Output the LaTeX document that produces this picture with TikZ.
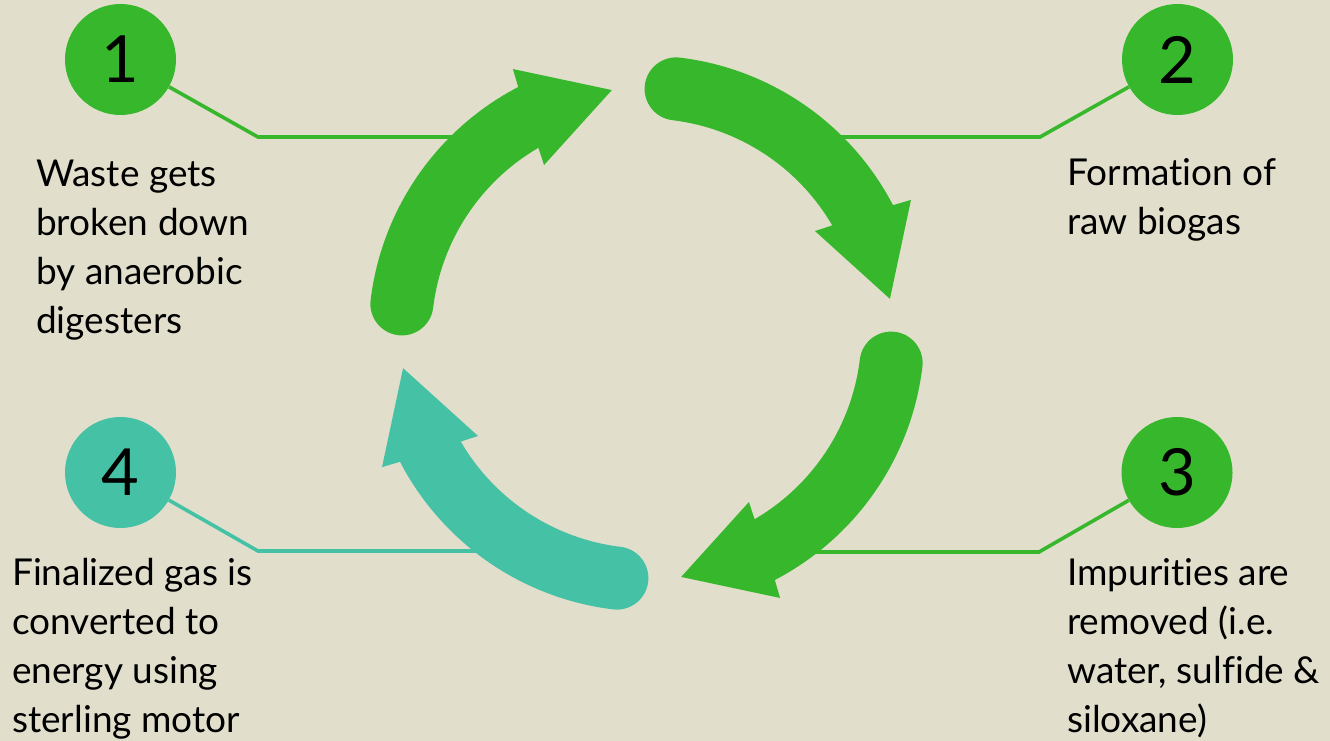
\documentclass[tikz,border=0pt]{standalone}
\usepackage{fontspec}
\setmainfont{Lato}[Ligatures=NoCommon]
\definecolor{bgc}{HTML}{E1DFCC}
\definecolor{grn}{HTML}{37B72C}
\definecolor{teal2}{HTML}{45C2A5}
\newcommand\cyclearrow[1]{%
    \fill[#1] (173.1:277.9pt) arc[start angle=173.1, end angle=117.5, radius=277.9pt]
      -- (116.8:296.3pt) -- (98.1:245.9pt) -- (121.3:197.2pt) -- (120.2:214.9pt)
      arc[start angle=120.2, end angle=173.1, radius=214.9pt]
      arc[start angle=353.1, end angle=173.1, radius=31.5pt] -- cycle;}
\tikzset{
  numcirc/.style={circle, fill=#1, minimum size=111pt, inner sep=0pt, text=black, font=\fontsize{65pt}{65pt}\selectfont},
  lead/.style={draw=#1, line width=3.6pt},
  desc/.style={anchor=base west, align=left, inner sep=0pt, text=black, font=\fontsize{37pt}{49pt}\selectfont},
}
\begin{document}
\begin{tikzpicture}[x=1pt,y=1pt]
\fill[bgc] (0,0) rectangle (1330,-741);
\useasboundingbox (0,0) rectangle (1330,-741);

% number circle positions
\coordinate (p1) at (120.5,-59.5);
\coordinate (p2) at (1177.5,-59.5);
\coordinate (p3) at (1177,-472.5);
\coordinate (p4) at (120.5,-472.5);

% leader line bends and ends
\coordinate (b1) at (258,-137);
\coordinate (e1) at (485,-137);
\coordinate (b2) at (1040,-137);
\coordinate (e2) at (810,-137);
\coordinate (b3) at (1039,-552);
\coordinate (e3) at (800,-552);
\coordinate (b4) at (258,-551);
\coordinate (e4) at (485,-551);

\node[numcirc=grn] (n1) at (p1) {1};
\node[numcirc=grn] (n2) at (p2) {2};
\node[numcirc=grn] (n3) at (p3) {3};
\node[numcirc=teal2] (n4) at (p4) {4};

\draw[lead=grn] (n1) -- (b1) -- (e1);
\draw[lead=grn] (n2) -- (b2) -- (e2);
\draw[lead=grn] (n3) -- (b3) -- (e3);
\draw[lead=teal2] (n4) -- (b4) -- (e4);

% cycle arrows
\coordinate (ctr) at (646.5,-333.5);
\begin{scope}[shift={(ctr)}]
  \cyclearrow{grn}
  \begin{scope}[rotate=-90] \cyclearrow{grn} \end{scope}
  \begin{scope}[rotate=-180] \cyclearrow{grn} \end{scope}
  \begin{scope}[rotate=-270] \cyclearrow{teal2} \end{scope}
\end{scope}

% descriptions (anchor = baseline of last line)
\node[desc] (t1) at (36,-333) {Waste gets\\broken down\\by anaerobic\\digesters};
\node[desc] (t2) at (1067,-234) {Formation of\\raw biogas};
\node[desc] (t3) at (1067,-732) {Impurities are\\removed (i.e.\\water, sulfide \&\\siloxane)};
\node[desc] (t4) at (12,-732) {Finalized gas is\\converted to\\energy using\\sterling motor};
\end{tikzpicture}
\end{document}
